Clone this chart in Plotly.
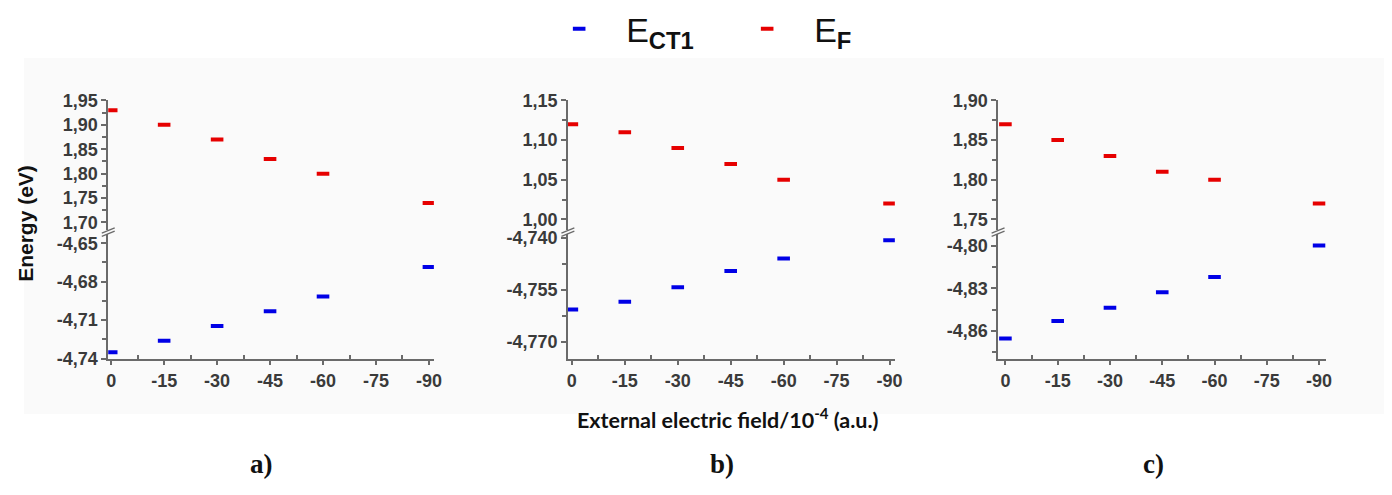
import plotly.graph_objects as go

W, H = 1392, 495

# ---------------- data ----------------
fields = [0, -15, -30, -45, -60, -90]

ef_a = [1.93, 1.90, 1.87, 1.83, 1.80, 1.74]
ect_a = [-4.735, -4.726, -4.7145, -4.703, -4.6915, -4.6685]

ef_b = [1.12, 1.11, 1.09, 1.07, 1.05, 1.02]
ect_b = [-4.7606, -4.7584, -4.7542, -4.7495, -4.7459, -4.7406]

ef_c = [1.87, 1.85, 1.83, 1.81, 1.80, 1.77]
ect_c = [-4.8654, -4.853, -4.8437, -4.8327, -4.8221, -4.7998]

x_tickvals = [0, -15, -30, -45, -60, -75, -90]
x_ticktext = ["0", "-15", "-30", "-45", "-60", "-75", "-90"]

ya_up_vals = [1.70, 1.75, 1.80, 1.85, 1.90, 1.95]
ya_up_text = ["1,70", "1,75", "1,80", "1,85", "1,90", "1,95"]
ya_lo_vals = [-4.74, -4.71, -4.68, -4.65]
ya_lo_text = ["-4,74", "-4,71", "-4,68", "-4,65"]

yb_up_vals = [1.00, 1.05, 1.10, 1.15]
yb_up_text = ["1,00", "1,05", "1,10", "1,15"]
yb_lo_vals = [-4.770, -4.755, -4.740]
yb_lo_text = ["-4,770", "-4,755", "-4,740"]

yc_up_vals = [1.75, 1.80, 1.85, 1.90]
yc_up_text = ["1,75", "1,80", "1,85", "1,90"]
yc_lo_vals = [-4.86, -4.83, -4.80]
yc_lo_text = ["-4,86", "-4,83", "-4,80"]

# ---------------- style ----------------
RED = "#e60000"
BLUE = "#0000e6"
AXC = "#6a6a6a"
TICKFONT = dict(family="Liberation Sans, Arial, sans-serif", size=18, color="#3a3a3a")


def bold(labels):
    return [f"<b>{t}</b>" for t in labels]


def px_x(p):
    return p / W


def px_y(p):
    return 1 - p / H


def minors(vals, step):
    out = []
    for v in vals:
        out += [v - step, v + step]
    return sorted(set(round(v, 6) for v in out))


panels = [
    dict(x=(107, 435), xr=[0.84, -91.4], up=ef_a, lo=ect_a,
         upr=[1.6849, 1.95], lor=[-4.74, -4.6425],
         upv=ya_up_vals, upt=ya_up_text, lov=ya_lo_vals, lot=ya_lo_text,
         upm=0.025, lom=0.015),
    dict(x=(570, 899.3), xr=[1.12, -91.5], up=ef_b, lo=ect_b,
         upr=[0.9869, 1.15], lor=[-4.7748, -4.7387],
         upv=yb_up_vals, upt=yb_up_text, lov=yb_lo_vals, lot=yb_lo_text,
         upm=0.025, lom=0.0075),
    dict(x=(1003.3, 1333.3), xr=[2.1, -91.9], up=ef_c, lo=ect_c,
         upr=[1.7369, 1.90], lor=[-4.8796, -4.7914],
         upv=yc_up_vals, upt=yc_up_text, lov=yc_lo_vals, lot=yc_lo_text,
         upm=0.025, lom=0.015),
]

UP_DOM = [px_y(229), px_y(94.3)]
LO_DOM = [px_y(363.3), px_y(233)]

fig = go.Figure()
layout = dict(
    width=W, height=H,
    margin=dict(l=0, r=0, t=0, b=0),
    paper_bgcolor="white",
    plot_bgcolor="rgba(0,0,0,0)",
    separators=", ",
    showlegend=True,
    shapes=[], annotations=[],
)

marker_common = dict(symbol="line-ew", size=9)

for i, p in enumerate(panels):
    xn = "x" if i == 0 else f"x{i+1}"
    yu_n = "y" if i == 0 else f"y{2*i+1}"
    yl_n = f"y{2*i+2}"
    xkey = "xaxis" if i == 0 else f"xaxis{i+1}"
    yukey = "yaxis" if i == 0 else f"yaxis{2*i+1}"
    ylkey = f"yaxis{2*i+2}"

    fig.add_trace(go.Scatter(
        x=fields, y=p["lo"], mode="markers", xaxis=xn, yaxis=yl_n,
        name="E<sub><b>CT1</b></sub>", legendgroup="ct", showlegend=(i == 0),
        marker=dict(**marker_common, color=BLUE, line=dict(color=BLUE, width=4)),
    ))
    fig.add_trace(go.Scatter(
        x=fields, y=p["up"], mode="markers", xaxis=xn, yaxis=yu_n,
        name="E<sub><b>F</b></sub>", legendgroup="f", showlegend=(i == 0),
        marker=dict(**marker_common, color=RED, line=dict(color=RED, width=4)),
    ))

    layout[xkey] = dict(
        domain=[px_x(p["x"][0]), px_x(p["x"][1])], range=p["xr"],
        anchor=yl_n, showline=True, linecolor=AXC, linewidth=1.5,
        showgrid=False, zeroline=False,
        tickmode="array", tickvals=x_tickvals, ticktext=bold(x_ticktext),
        ticks="outside", ticklen=5, tickcolor=AXC, tickwidth=1.5,
        tickfont=TICKFONT,
        minor=dict(tickmode="array", tickvals=minors(x_tickvals, 7.5),
                   ticks="inside", ticklen=4, tickcolor=AXC, tickwidth=1.5),
    )
    ycommon = dict(showline=True, linecolor=AXC, linewidth=1.5, showgrid=False,
                   zeroline=False, ticks="outside", ticklen=5, tickcolor=AXC,
                   tickwidth=1.5, tickfont=TICKFONT, tickmode="array", anchor=xn)
    layout[yukey] = dict(ycommon, domain=UP_DOM, range=p["upr"],
                         tickvals=p["upv"], ticktext=bold(p["upt"]),
                         minor=dict(tickmode="array", tickvals=minors(p["upv"], p["upm"]),
                                    ticks="outside", ticklen=4, tickcolor=AXC, tickwidth=1.5))
    layout[ylkey] = dict(ycommon, domain=LO_DOM, range=p["lor"],
                         tickvals=p["lov"], ticktext=bold(p["lot"]),
                         minor=dict(tickmode="array", tickvals=minors(p["lov"], p["lom"]),
                                    ticks="outside", ticklen=4, tickcolor=AXC, tickwidth=1.5))

    # axis break marks
    ax = p["x"][0]
    for dy in (0, 3.5):
        layout["shapes"].append(dict(
            type="line", xref="paper", yref="paper",
            x0=px_x(ax - 6.5), y0=px_y(234 + dy - 1.5),
            x1=px_x(ax + 6.5), y1=px_y(228.5 + dy - 1.5),
            line=dict(color=AXC, width=1.3),
        ))

# light grey backdrop
layout["shapes"].insert(0, dict(
    type="rect", xref="paper", yref="paper", layer="below",
    x0=px_x(22), x1=1, y0=px_y(421), y1=px_y(50),
    fillcolor="#fafafa", line=dict(width=0),
))

# y-axis title
layout["annotations"].append(dict(
    text="<b>Energy (eV)</b>", xref="paper", yref="paper",
    x=px_x(23), y=px_y(222), textangle=-90, showarrow=False,
    font=dict(family="Liberation Sans, Arial, sans-serif", size=21, color="#111"),
    xanchor="center", yanchor="middle",
))
# x-axis title
layout["annotations"].append(dict(
    text="<b>External electric field/10<sup>-4</sup> (a.u.)</b>",
    xref="paper", yref="paper", x=px_x(731), y=px_y(426), showarrow=False,
    font=dict(family="Lato", size=21.5, color="#111"),
    xanchor="center", yanchor="middle",
))
# panel labels
for lab, xp in (("a)", 261), ("b)", 725), ("c)", 1160)):
    layout["annotations"].append(dict(
        text=f"<b>{lab}</b>", xref="paper", yref="paper",
        x=px_x(xp), y=px_y(473), showarrow=False,
        font=dict(family="Liberation Serif", size=27, color="#111"),
        xanchor="center", yanchor="middle",
    ))

layout["legend"] = dict(
    orientation="h", x=px_x(534), xanchor="left", y=px_y(20), yanchor="middle",
    font=dict(family="Liberation Sans, Arial, sans-serif", size=34, color="#111"),
    itemwidth=84, entrywidth=89, entrywidthmode="pixels",
    bgcolor="rgba(0,0,0,0)", itemsizing="trace",
)

fig.update_layout(**layout)
fig.write_html("out.html")
